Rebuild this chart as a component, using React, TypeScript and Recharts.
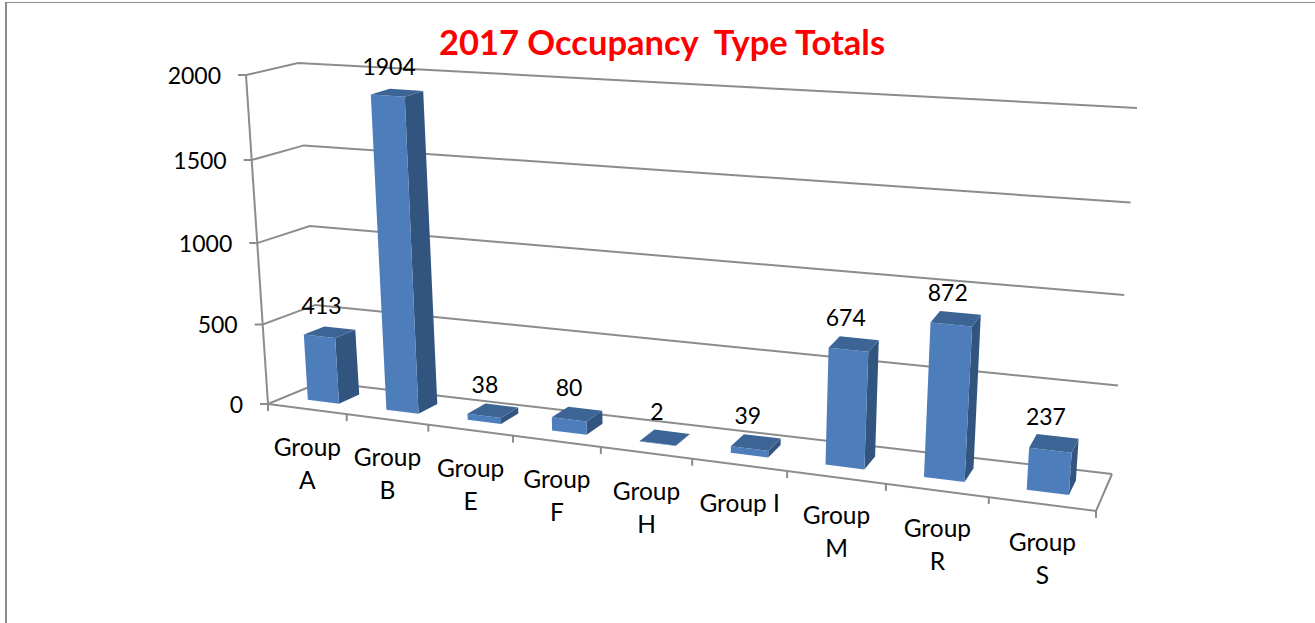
import { Bar, BarChart, CartesianGrid, LabelList, XAxis, YAxis } from "recharts";

const categories = ["Group A", "Group B", "Group E", "Group F", "Group H", "Group I", "Group M", "Group R", "Group S"];
const totals = [413, 1904, 38, 80, 2, 39, 674, 872, 237];
const valueTicks = [0, 500, 1000, 1500, 2000];
const chartTitle = "2017 Occupancy  Type Totals";

const data = categories.map((category, i) => ({ category, total: totals[i] }));

const WIDTH = 1315;
const HEIGHT = 623;
const PLOT_LEFT = 100;
const PLOT_TOP = 50;
const PLOT_W = 1080;
const PLOT_H = 450;

const GRID = "#8c8c8c";
const FONT = "Lato, Carlito, sans-serif";

// corners of the 3D box on the page: front/back, left/right, floor/top
const FLB = [268, 404];
const FLT = [246, 75];
const FRB = [1096, 511];
const FRT = [1122, 134];
const BLB = [321, 382];
const BLT = [298, 63];
const BRB = [1112, 474];
const BRT = [1137, 108];

// foreshortening along the category and value axes
const warp = (t: number, q: number) => t / (t + q * (1 - t));
const mix = (a: number[], b: number[], t: number) => [a[0] + (b[0] - a[0]) * t, a[1] + (b[1] - a[1]) * t];

// flat chart pixel + depth (0 front, 1 back) -> page pixel
function project(fx: number, fy: number, depth: number) {
    const u = warp((fx - PLOT_LEFT) / PLOT_W, 1.19);
    const v = warp((PLOT_TOP + PLOT_H - fy) / PLOT_H, 1.045);
    const front = mix(mix(FLB, FRB, u), mix(FLT, FRT, u), v);
    const back = mix(mix(BLB, BRB, u), mix(BLT, BRT, u), v);
    return mix(front, back, depth);
}

const toPoints = (pts: number[][]) => pts.map((p) => `${p[0].toFixed(1)},${p[1].toFixed(1)}`).join(" ");

function Face({ pts, fill }: { pts: number[][]; fill: string }) {
    return <polygon points={toPoints(pts)} fill={fill} />;
}

function Box3D({ x, y, width, height }: any) {
    const xl = x;
    const xr = x + width;
    const top = y;
    const bottom = y + height;
    const d0 = 0.32;
    const d1 = 0.72;
    return (
        <g>
            <Face
                fill="#32557f"
                pts={[project(xr, bottom, d0), project(xr, bottom, d1), project(xr, top, d1), project(xr, top, d0)]} />
            <Face
                fill="#4d7ebb"
                pts={[project(xl, bottom, d0), project(xr, bottom, d0), project(xr, top, d0), project(xl, top, d0)]} />
            <Face
                fill="#3c6596"
                pts={[project(xl, top, d0), project(xr, top, d0), project(xr, top, d1), project(xl, top, d1)]} />
        </g>
    );
}

function ValueLabel({ x, y, width, value }: any) {
    const p = project(x + width / 2, y, 0.52);
    return (
        <text x={p[0] - 8} y={p[1] - 18} textAnchor="middle" fontFamily={FONT} fontSize={23} fill="#000">
            {value}
        </text>
    );
}

function GridLine({ x1, x2, y1 }: any) {
    const frontLeft = project(x1, y1, 0);
    const backLeft = project(x1, y1, 1);
    const backRight = project(x2, y1, 1);
    const isFloor = Math.abs(y1 - (PLOT_TOP + PLOT_H)) < 0.5;
    const isTop = Math.abs(y1 - PLOT_TOP) < 0.5;
    const line = [[frontLeft[0] - 8, frontLeft[1]], frontLeft, backLeft, backRight];
    return (
        <g fill="none" stroke={GRID} strokeWidth={2}>
            <polyline points={toPoints(line)} />
            {isFloor && <polyline points={toPoints([frontLeft, project(x2, y1, 0), backRight])} />}
            {isTop && <polyline points={toPoints([frontLeft, project(x1, PLOT_TOP + PLOT_H, 0)])} />}
        </g>
    );
}

function CategoryTick({ x, payload, index }: any) {
    const band = PLOT_W / categories.length;
    const floor = PLOT_TOP + PLOT_H;
    const right = project(x + band / 2, floor, 0);
    const left = project(x - band / 2, floor, 0);
    const mid = mix(left, right, 0.5);
    const label = String(payload.value);
    const lines = label === "Group I" ? [label] : label.split(" ");
    return (
        <g>
            <line x1={right[0]} y1={right[1]} x2={right[0]} y2={right[1] + 7} stroke={GRID} strokeWidth={2} />
            {index === 0 && <line x1={left[0]} y1={left[1]} x2={left[0]} y2={left[1] + 7} stroke={GRID} strokeWidth={2} />}
            <text textAnchor="middle" fontFamily={FONT} fontSize={24.5} fill="#000">
                {lines.map((line, i) => (
                    <tspan key={line} x={mid[0]} y={mid[1] + 47 + i * 33}>{line}</tspan>
                ))}
            </text>
        </g>
    );
}

function ValueTick({ y, payload }: any) {
    const p = project(PLOT_LEFT, y, 0);
    return (
        <text x={p[0] - 25} y={p[1] + 9} textAnchor="end" fontFamily={FONT} fontSize={23} fill="#000">
            {payload.value}
        </text>
    );
}

export default function App() {
    return (
        <div style={{ position: "absolute", left: 0, top: 0, width: WIDTH, height: HEIGHT, background: "#fff" }}>
            <div
                style={{
                    position: "absolute",
                    left: 5,
                    top: 2,
                    right: 0,
                    bottom: 0,
                    borderLeft: `2px solid ${GRID}`,
                    borderTop: `1px solid ${GRID}`
                }} />
            <div style={{ position: "absolute", left: 0, top: 0 }}>
                <BarChart
                    width={WIDTH}
                    height={HEIGHT}
                    data={data}
                    barCategoryGap="30%"
                    margin={{
                        top: PLOT_TOP,
                        left: PLOT_LEFT - 1,
                        right: WIDTH - PLOT_LEFT - PLOT_W,
                        bottom: HEIGHT - PLOT_TOP - PLOT_H - 1
                    }} >
                    <CartesianGrid vertical={false} horizontal={(props: any) => <GridLine key={props.y1} {...props} />} />
                    <XAxis
                        dataKey="category"
                        height={1}
                        interval={0}
                        axisLine={false}
                        tickLine={false}
                        tick={CategoryTick} />
                    <YAxis
                        width={1}
                        domain={[0, 2000]}
                        ticks={valueTicks}
                        interval={0}
                        axisLine={false}
                        tickLine={false}
                        tick={ValueTick} />
                    <Bar dataKey="total" shape={Box3D} isAnimationActive={false}>
                        <LabelList dataKey="total" content={ValueLabel} />
                    </Bar>
                    <text
                        x={662}
                        y={55}
                        textAnchor="middle"
                        fontFamily={FONT}
                        fontSize={34.5}
                        fontWeight={700}
                        fill="#ff0000"
                        style={{ whiteSpace: "pre" }}>
                        {chartTitle}
                    </text>
                </BarChart>
            </div>
        </div>
    );
}
